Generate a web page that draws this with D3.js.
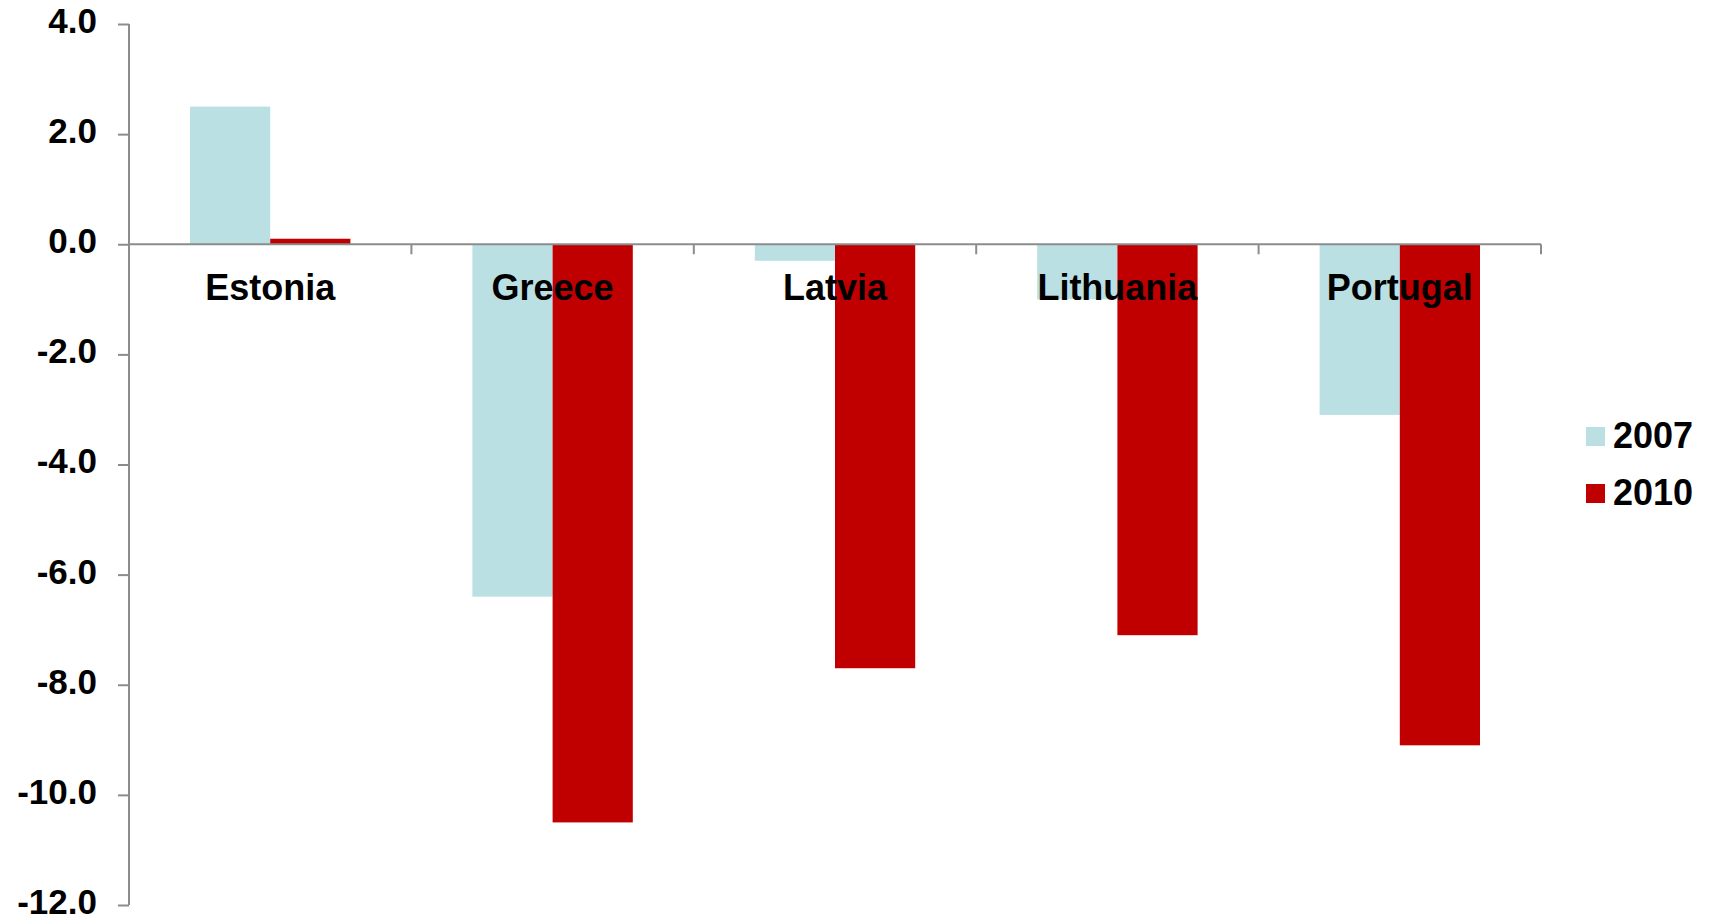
<!DOCTYPE html>
<html>
<head>
<meta charset="utf-8">
<script src="https://cdn.jsdelivr.net/npm/d3@7/dist/d3.min.js"></script>
<style>
  html, body { margin: 0; padding: 0; background: #ffffff; }
  svg { display: block; }
  text { font-family: "Liberation Sans", Arial, sans-serif; font-weight: bold; fill: #000; }
</style>
</head>
<body>
<svg id="chart" width="1715" height="921"></svg>
<script>
const categories = ["Estonia", "Greece", "Latvia", "Lithuania", "Portugal"];
const seriesNames = ["2007", "2010"];
const values2007 = [2.5, -6.4, -0.3, -1.0, -3.1];
const values2010 = [0.1, -10.5, -7.7, -7.1, -9.1];
const yTicks = [4, 2, 0, -2, -4, -6, -8, -10, -12];
const seriesColors = ["#BAE0E3", "#C00000"];

const svg = d3.select("#chart");
const axisColor = "#8C8C8C";

const x = d3.scaleBand().domain(categories).range([129, 1541]).padding(0);
const inner = d3.scaleBand().domain(seriesNames)
  .range([x.bandwidth() * 0.216, x.bandwidth() * 0.784]).padding(0);
const y = d3.scaleLinear().domain([-12, 4]).range([905, 24]);

const seriesData = [values2007, values2010];

// bars
seriesNames.forEach((s, si) => {
  svg.append("g").selectAll("rect")
    .data(categories.map((c, i) => ({ c, v: seriesData[si][i] })))
    .join("rect")
    .attr("x", d => x(d.c) + inner(s))
    .attr("width", inner.bandwidth())
    .attr("y", d => y(Math.max(0, d.v)))
    .attr("height", d => Math.abs(y(d.v) - y(0)))
    .attr("fill", seriesColors[si]);
});

// y axis
const fmt = d3.format(".1f");
const yAxis = d3.axisLeft(y).tickValues(yTicks).tickSize(11).tickPadding(21)
  .tickFormat(d => fmt(d).replace("\u2212", "-"));
const gy = svg.append("g").attr("transform", "translate(129,0)").call(yAxis);
gy.select(".domain").attr("stroke", axisColor).attr("stroke-width", 2).attr("d", `M0,${y(4)}V${y(-12)}`);
gy.selectAll(".tick line").attr("stroke", axisColor).attr("stroke-width", 2);
gy.selectAll(".tick text")
  .style("font-family", "'Liberation Sans', Arial, sans-serif")
  .style("font-weight", "bold")
  .style("font-size", "35px")
  .attr("dy", "0.24em")
  .attr("fill", "#000");

// x axis at zero
const xAxis = d3.axisBottom(x).tickSize(0).tickFormat("");
const gx = svg.append("g").attr("transform", `translate(0,${y(0)})`).call(xAxis);
gx.select(".domain").attr("stroke", axisColor).attr("stroke-width", 2).attr("d", `M129,0H${x.range()[1]}`);
gx.selectAll(".tick").remove();
// category boundary ticks
const bounds = categories.map(c => x(c) + x.bandwidth());
gx.selectAll("line.sep").data(bounds).join("line")
  .attr("class", "sep")
  .attr("x1", d => d).attr("x2", d => d)
  .attr("y1", 0).attr("y2", 10)
  .attr("stroke", axisColor).attr("stroke-width", 2);

// category labels (drawn above bars)
svg.append("g").selectAll("text")
  .data(categories)
  .join("text")
  .attr("x", d => x(d) + x.bandwidth() / 2)
  .attr("y", y(0) + 56)
  .attr("text-anchor", "middle")
  .style("font-size", "36px")
  .text(d => d);

// legend
const legend = svg.append("g");
seriesNames.forEach((s, i) => {
  const ly = 427 + i * 57;
  legend.append("rect").attr("x", 1586).attr("y", ly).attr("width", 19).attr("height", 19)
    .attr("fill", seriesColors[i]);
  legend.append("text").attr("x", 1613).attr("y", ly + 21)
    .style("font-size", "36px").text(s);
});
</script>
</body>
</html>
